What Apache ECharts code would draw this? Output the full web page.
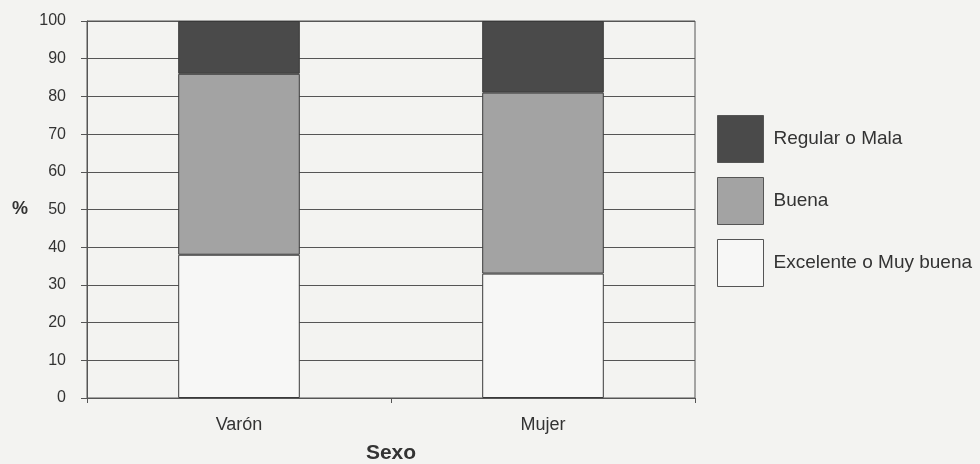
<!DOCTYPE html>
<html>
<head>
<meta charset="utf-8">
<script src="https://cdn.jsdelivr.net/npm/echarts@6/dist/echarts.min.js"></script>
<style>
html,body{margin:0;padding:0;background:#f3f3f1;}
#c{width:980px;height:464px;}
</style>
</head>
<body>
<div id="c"></div>
<script>
var categories = ['Varón', 'Mujer'];
var excelente = [38, 33];
var buena = [48, 48];
var regular = [14, 19];
var yTicks = [0, 10, 20, 30, 40, 50, 60, 70, 80, 90, 100];

var chart = echarts.init(document.getElementById('c'));
var font = 'Liberation Sans, Arial, sans-serif';
var border = {borderColor: '#3a3a3a', borderWidth: 1};
chart.setOption({
  backgroundColor: '#f3f3f1',
  animation: false,
  textStyle: {fontFamily: font, color: '#333'},
  grid: {left: 87, right: 285, top: 21, bottom: 66, containLabel: false, outerBoundsMode: 'none',
    show: true, borderColor: '#555', borderWidth: 1, backgroundColor: 'transparent'},
  legend: {
    orient: 'vertical', left: 717, top: 115, padding: 0,
    icon: 'rect',
    itemWidth: 46, itemHeight: 47, itemGap: 14,
    data: ['Regular o Mala', 'Buena', 'Excelente o Muy buena'],
    textStyle: {fontFamily: font, fontSize: 19, color: '#333', padding: [0, 0, 0, 5]},
    itemStyle: {borderColor: '#555', borderWidth: 1}
  },
  xAxis: {
    type: 'category', data: categories,
    name: 'Sexo', nameLocation: 'middle', nameGap: 45,
    nameTextStyle: {fontFamily: font, fontSize: 21, fontWeight: 'bold', color: '#333'},
    axisLine: {lineStyle: {color: '#555'}},
    axisTick: {show: true, length: 5, lineStyle: {color: '#555'}},
    axisLabel: {fontSize: 18, color: '#333', margin: 18}
  },
  yAxis: {
    type: 'value', min: 0, max: 100, interval: 10,
    name: '%', nameLocation: 'middle', nameGap: 59, nameRotate: 0,
    nameTextStyle: {fontFamily: font, fontSize: 18, fontWeight: 'bold', color: '#333'},
    axisLine: {show: true, lineStyle: {color: '#555'}},
    axisTick: {show: true, length: 6, lineStyle: {color: '#555'}},
    axisLabel: {fontSize: 16, color: '#333', margin: 21,
      formatter: function (v) { return yTicks.indexOf(v) >= 0 ? String(v) : ''; }},
    splitLine: {show: true, lineStyle: {color: '#555', width: 1}}
  },
  series: [
    {name: 'Excelente o Muy buena', type: 'bar', stack: 's', data: excelente, barWidth: '40%',
      itemStyle: Object.assign({color: '#f7f7f6'}, border)},
    {name: 'Buena', type: 'bar', stack: 's', data: buena, barWidth: '40%',
      itemStyle: Object.assign({color: '#a3a3a3'}, border)},
    {name: 'Regular o Mala', type: 'bar', stack: 's', data: regular, barWidth: '40%',
      itemStyle: Object.assign({color: '#4a4a4a'}, border)}
  ]
});
</script>
</body>
</html>
